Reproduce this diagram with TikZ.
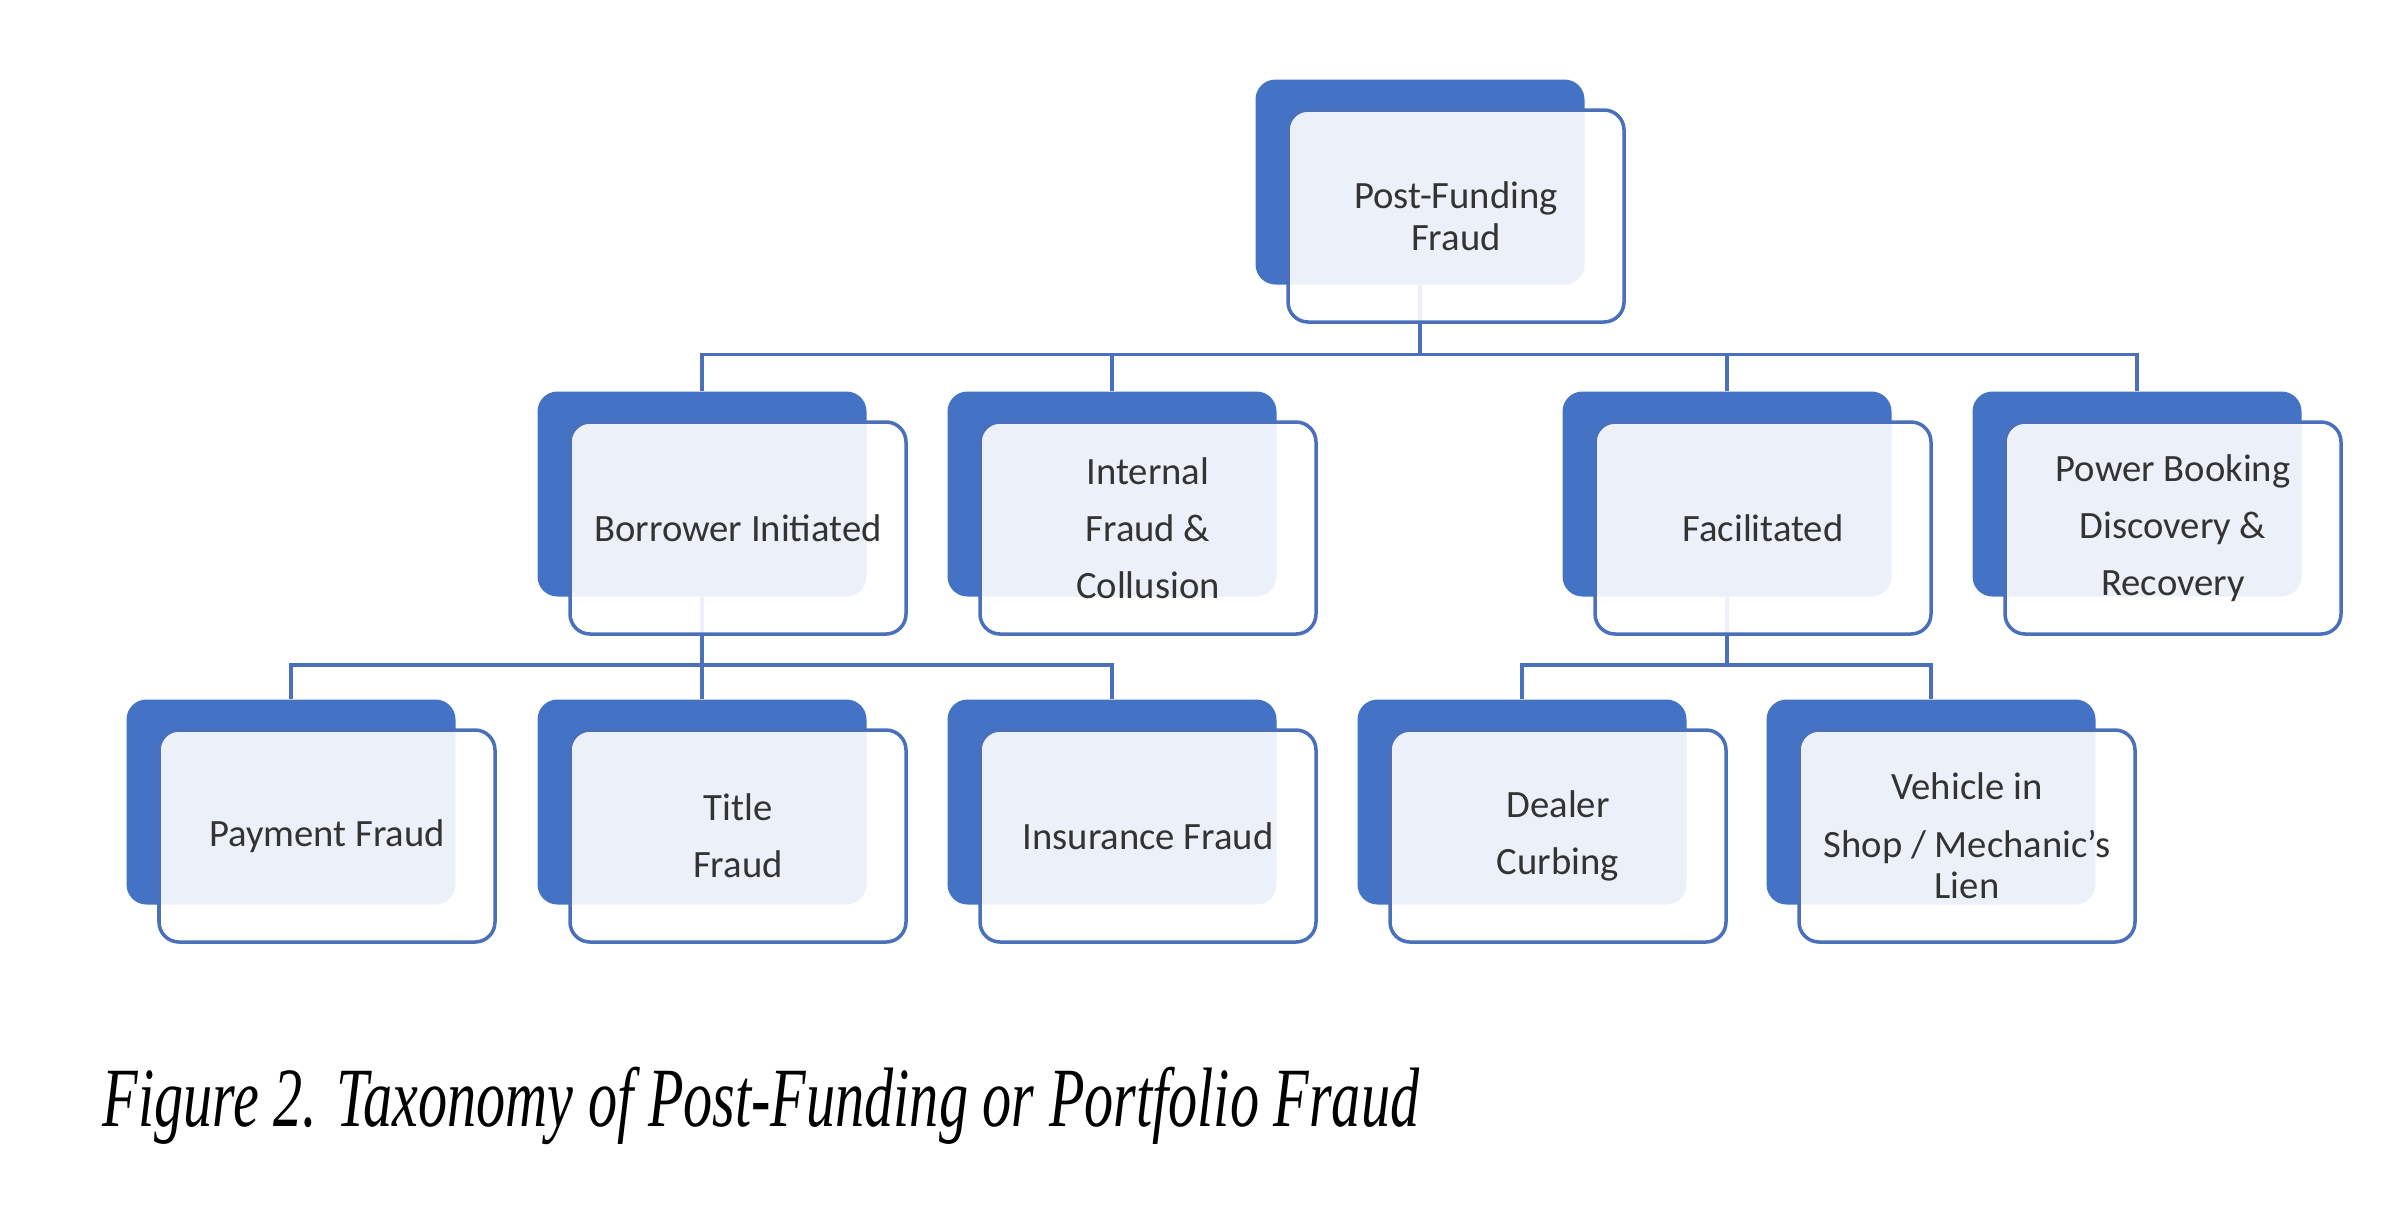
\documentclass[tikz,border=0pt]{standalone}
\usepackage{fontspec}
\setmainfont{Carlito}
\newfontfamily\capfont[FakeStretch=0.69]{Liberation Serif}
\usepackage{tikz}
\definecolor{taxblue}{HTML}{4472C4}
\definecolor{taxline}{HTML}{4A70BC}
\definecolor{taxtext}{HTML}{333333}
\tikzset{
  backbox/.style={fill=taxblue, rounded corners=2mm, minimum width=3.29cm, minimum height=2.05cm, inner sep=0pt},
  frontbox/.style={draw=taxline, line width=1pt, fill=white, fill opacity=0.9, text opacity=1,
    rounded corners=2mm, minimum width=3.36cm, minimum height=2.12cm, inner sep=0pt, align=center,
    text=taxtext, font=\fontsize{11}{11.8}\selectfont},
  link/.style={draw=taxline, line width=0.9pt}
}

\begin{document}
\begin{tikzpicture}
\fill[white] (0,0) rectangle (23.96,-12.06);
\useasboundingbox (0,0) rectangle (23.96,-12.06);

% back boxes
\node[backbox] (pf-b) at (14.20,-1.82) {};
\node[backbox] (bi-b) at (7.02,-4.94) {};
\node[backbox] (ic-b) at (11.12,-4.94) {};
\node[backbox] (fa-b) at (17.27,-4.94) {};
\node[backbox] (pb-b) at (21.37,-4.94) {};
\node[backbox] (py-b) at (2.91,-8.02) {};
\node[backbox] (tf-b) at (7.02,-8.02) {};
\node[backbox] (if-b) at (11.12,-8.02) {};
\node[backbox] (dc-b) at (15.22,-8.02) {};
\node[backbox] (vm-b) at (19.31,-8.02) {};

% connectors
\coordinate (bus-top) at (14.20,-3.545);
\coordinate (bus-bi) at (7.02,-6.65);
\coordinate (bus-fa) at (17.27,-6.65);
\draw[link] (pf-b.south) -- (bus-top);
\foreach \n in {bi,ic,fa,pb}{
\draw[link] (bus-top) -| (\n-b.north);
}
\draw[link] (bi-b.south) -- (bus-bi);
\foreach \n in {py,tf,if}{
\draw[link] (bus-bi) -| (\n-b.north);
}
\draw[link] (fa-b.south) -- (bus-fa);
\foreach \n in {dc,vm}{
\draw[link] (bus-fa) -| (\n-b.north);
}

% front boxes
\node[frontbox] (pf) at ([shift={(0.36,-0.34)}]pf-b.center) {Post-Funding\\Fraud};
\node[frontbox] (bi) at ([shift={(0.36,-0.34)}]bi-b.center) {Borrower Initiated};
\node[frontbox] (ic) at ([shift={(0.36,-0.34)}]ic-b.center) {Internal\\[4.5pt]Fraud \&\\[4.5pt]Collusion};
\node[frontbox] (fa) at ([shift={(0.36,-0.34)}]fa-b.center) {Facilitated};
\node[frontbox] (pb) at ([shift={(0.36,-0.34)}]pb-b.center) {Power Booking\\[4.5pt]Discovery \&\\[4.5pt]Recovery};
\node[frontbox] (py) at ([shift={(0.36,-0.34)}]py-b.center) {Payment Fraud};
\node[frontbox] (tf) at ([shift={(0.36,-0.34)}]tf-b.center) {Title\\[4.5pt]Fraud};
\node[frontbox] (if) at ([shift={(0.36,-0.34)}]if-b.center) {Insurance Fraud};
\node[frontbox] (dc) at ([shift={(0.36,-0.34)}]dc-b.center) {Dealer\\[4.5pt]Curbing};
\node[frontbox] (vm) at ([shift={(0.36,-0.34)}]vm-b.center) {Vehicle in\\[4.5pt]Shop / Mechanic’s\\Lien};

% caption
\node[anchor=base west, inner sep=0pt, font=\capfont\itshape\fontsize{24}{28}\selectfont] (cap) at (1.02,-11.26) {Figure 2. Taxonomy of Post-Funding or Portfolio Fraud};
\end{tikzpicture}
\end{document}
